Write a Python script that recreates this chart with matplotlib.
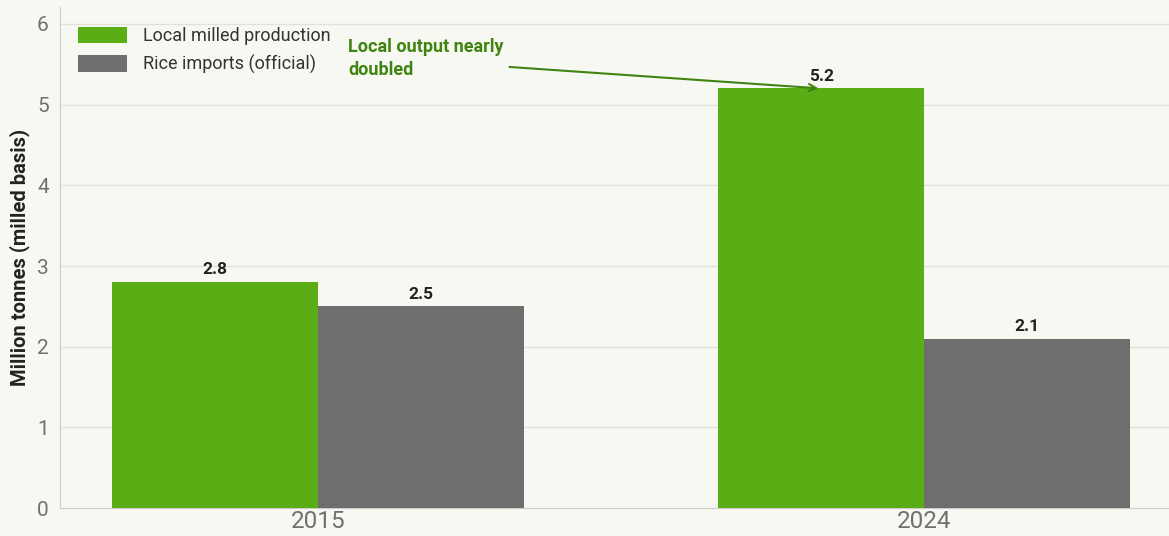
import numpy as np
import matplotlib.pyplot as plt

years = ["2015", "2024"]
local_prod = [2.8, 5.2]
imports = [2.5, 2.1]
series_names = ["Local milled production", "Rice imports (official)"]

bg = "#f8f8f3"
green = "#5aad15"
grey = "#6e6e6e"

plt.rcParams['font.family'] = ['Roboto', 'DejaVu Sans']

fig = plt.figure(figsize=(11.69, 5.36), dpi=100, facecolor=bg)
ax = fig.add_axes([0.0513, 0.052, 0.9487, 0.935])
ax.set_facecolor(bg)

x = np.arange(len(years))
w = 0.34
b1 = ax.bar(x - w / 2, local_prod, w, color=green, label=series_names[0], zorder=3)
b2 = ax.bar(x + w / 2, imports, w, color=grey, label=series_names[1], zorder=3)

for bars, vals in [(b1, local_prod), (b2, imports)]:
    for r, v in zip(bars, vals):
        ax.text(r.get_x() + r.get_width() / 2, v + 0.06, f"{v:.1f}",
                ha="center", va="bottom", fontsize=12.5, fontweight="bold",
                color="#222222", zorder=4)

ax.set_xlim(-0.426, 1.404)
ax.set_ylim(0, 6.21)
ax.set_yticks(range(0, 7))
ax.set_xticks(x)
ax.set_xticklabels(years)
ax.tick_params(axis="y", length=0, labelsize=15, labelcolor="#707070", pad=8)
ax.tick_params(axis="x", length=0, labelsize=17.5, labelcolor="#707070", pad=1)
ax.grid(axis="y", color="#e2e2dc", linewidth=1, zorder=0)
for s in ["top", "right"]:
    ax.spines[s].set_visible(False)
for s in ["left", "bottom"]:
    ax.spines[s].set_color("#cccccc")
ax.set_ylabel("Million tonnes (milled basis)", fontsize=14.5, fontweight="bold",
              color="#222222", labelpad=5)

ax.legend(loc="upper left", frameon=False, fontsize=13, labelcolor="#333333",
          handlelength=2.7, handleheight=1.0, handletextpad=0.9,
          borderaxespad=0.6, labelspacing=0.55,
          bbox_to_anchor=(0.0, 0.997))

ax.annotate("Local output nearly\ndoubled", xy=(0.83, 5.2), xytext=(0.05, 5.82),
            ha="left", va="top", fontsize=13, fontweight="bold", color="#3f8410",
            linespacing=1.3,
            arrowprops=dict(arrowstyle="->", color="#3f8410", lw=1.5,
                            relpos=(1.0, 0.3), shrinkA=2, shrinkB=2),
            zorder=5)

fig.savefig("out.png", dpi=100, facecolor=bg)
